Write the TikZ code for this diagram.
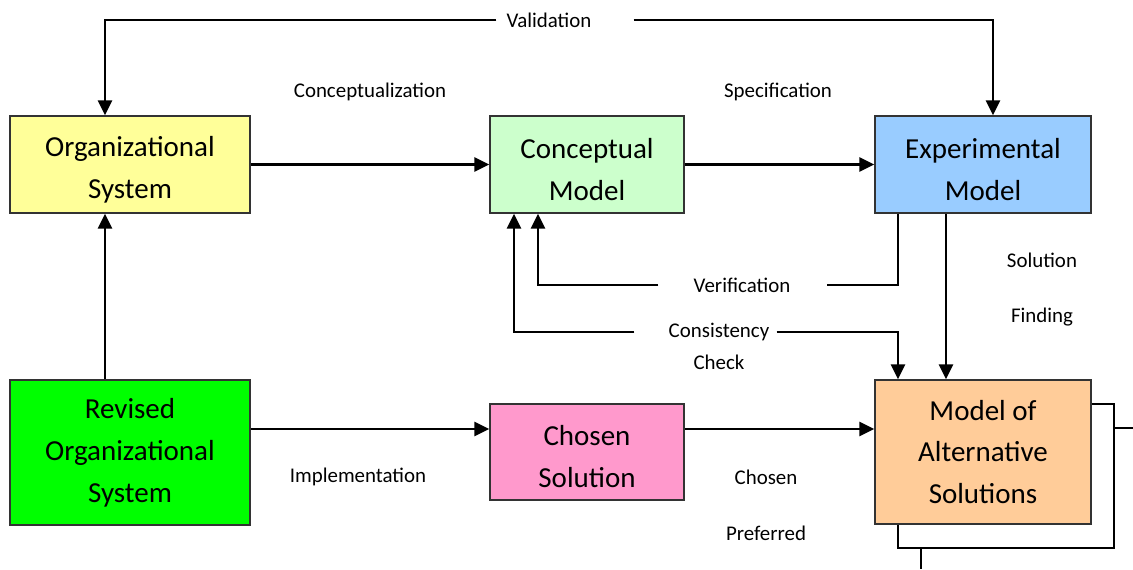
\documentclass[tikz,border=0pt]{standalone}
\usepackage{fontspec}
\setmainfont{Carlito}
\usetikzlibrary{arrows.meta}

\definecolor{orgyellow}{HTML}{FFFF99}
\definecolor{conceptgreen}{HTML}{CCFFCC}
\definecolor{expblue}{HTML}{99CCFF}
\definecolor{revgreen}{HTML}{00FF00}
\definecolor{chosenpink}{HTML}{FF99CC}
\definecolor{altorange}{HTML}{FFCC99}

% pushes a two-line box text a little down
\newcommand\lift{\rule{0pt}{17pt}}

\tikzset{
  box/.style={draw=black!80, line width=0.9pt, align=center, font=\fontsize{16.5}{23.8}\selectfont},
  lbl/.style={font=\fontsize{11.9}{17}\selectfont, inner sep=0pt},
  flow/.style={line width=1.6pt, -{Triangle[length=8.5pt,width=8pt]}},
  plain/.style={line width=1.6pt}
}

\begin{document}
\begin{tikzpicture}[x=0.02cm,y=-0.02cm]
\useasboundingbox (0,0) rectangle (1133,569);

% Top row
\node[box, fill=orgyellow, minimum width=4.8cm, minimum height=1.94cm] (org) at (130,164.5) {\lift Organizational\\System};
\node[box, fill=conceptgreen, minimum width=3.88cm, minimum height=1.94cm] (concept) at (587,164.5) {\lift Conceptual\\Model};
\node[box, fill=expblue, minimum width=4.32cm, minimum height=1.94cm] (exp) at (983,164.5) {\lift Experimental\\Model};

% Bottom row
\node[box, fill=revgreen, minimum width=4.8cm, minimum height=2.9cm] (rev) at (130,452.5) {Revised\\Organizational\\System};
\node[box, fill=chosenpink, minimum width=3.88cm, minimum height=1.92cm] (chosen) at (587,452) {\lift Chosen\\Solution};
\node[box, fill=altorange, minimum width=4.32cm, minimum height=2.88cm] (alt) at (983,452) {Model of\\Alternative\\Solutions};

% Labels
\node[lbl] (val) at (549,20) {Validation};
\node[lbl] (conc) at (370,92) {Conceptualization};
\node[lbl] (spec) at (778,92) {Specification};
\node[lbl] (verif) at (742,285) {Verification};
\node[lbl] (cons) at (719,332) {Consistency};
\node[lbl] (check) at (719,362) {Check};
\node[lbl] (sol) at (1042,260) {Solution};
\node[lbl] (find) at (1042,317) {Finding};
\node[lbl] (impl) at (358,477) {Implementation};
\node[lbl] (chos) at (766,477) {Chosen};
\node[lbl] (pref) at (766,533) {Preferred};

% Arrows
\draw[flow] ([xshift=-0.2cm]val.west) -| ([xshift=-0.5cm]org.north);
\draw[flow] ([xshift=0.84cm]val.east) -| ([xshift=0.2cm]exp.north);
\draw[flow] (org) -- (concept);
\draw[flow] (concept) -- (exp);
\draw[plain] ([xshift=-1.7cm]exp.south) |- ([xshift=0.72cm]verif.east);
\draw[flow] ([xshift=-0.7cm]verif.west) -| ([xshift=-0.98cm]concept.south);
\draw[flow] ([xshift=-0.68cm]cons.west) -| ([xshift=-1.46cm]concept.south);
\draw[flow] ([xshift=0.14cm]cons.east) -| ([xshift=-1.7cm]alt.north);
\draw[flow] ([xshift=-0.74cm]exp.south) -- ([xshift=-0.74cm]alt.north);
\draw[flow] ([xshift=-0.5cm]rev.north) -- ([xshift=-0.5cm]org.south);
\draw[flow] ([yshift=0.47cm]rev.east) -- ([yshift=0.47cm]rev.east -| chosen.west);
\draw[flow] ([yshift=0.46cm]chosen.east) -- ([yshift=0.46cm]chosen.east -| alt.west);

% Loop
\coordinate (lpr) at (1114,548);
\coordinate (stubR) at (1133,428);
\coordinate (stubB) at (921,569);
\draw[plain] ([yshift=0.96cm]alt.east) -| (lpr) -| ([xshift=-1.7cm]alt.south);
\draw[plain] (stubR -| lpr) -- (stubR);
\draw[plain] (stubB |- lpr) -- (stubB);
\end{tikzpicture}
\end{document}
